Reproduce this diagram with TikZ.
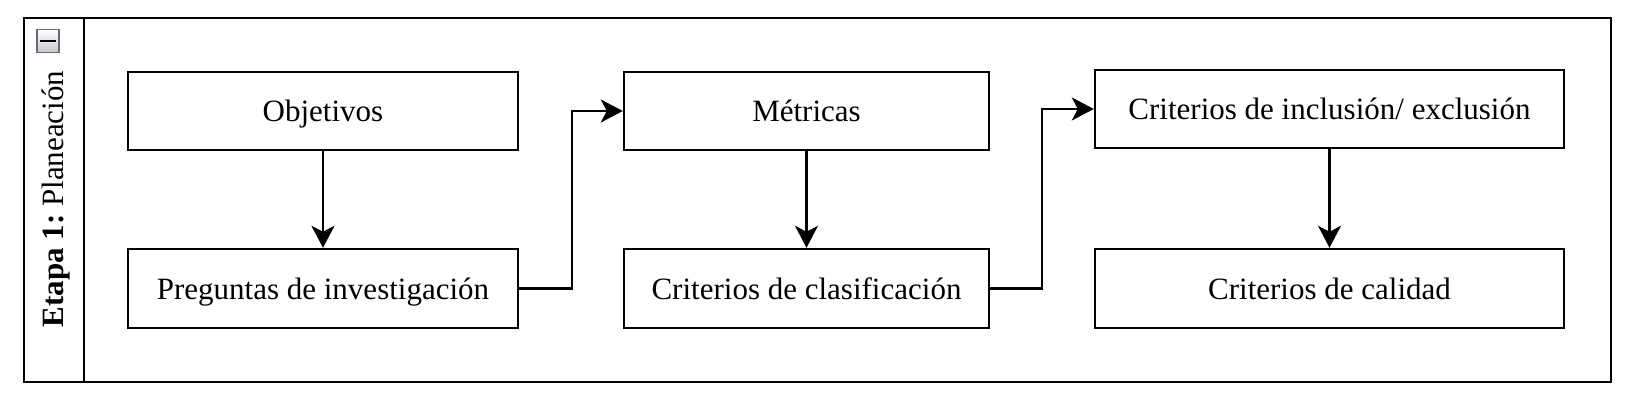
\documentclass[tikz,border=0pt]{standalone}
\usepackage{fontspec}
\setmainfont{Liberation Serif}
\usetikzlibrary{arrows.meta}
\begin{document}
\begin{tikzpicture}[x=0.5pt,y=-0.5pt,
  lw/.style={line width=1.2pt},
  txt/.style={font=\fontsize{15.5}{18}\selectfont, text height=10.8pt, text depth=0pt},
  stepbox/.style={draw, lw, rectangle, inner sep=0pt, align=center, txt},
  conn/.style={lw, -{Stealth[length=11pt,width=11.5pt,inset=3pt]}}]
\useasboundingbox (0,0) rectangle (1630,400);
% pool frame
\draw[lw] (24,18) rectangle (1611,382);
\draw[lw] (84,18) -- (84,382);
\node[rotate=90, inner sep=0pt, txt] (title) at (53,199)
  {\frenchspacing\textbf{Etapa 1:} Planeación};
% collapse icon
\node[draw=black!45!blue!20!gray, line width=0.8pt, top color=white, bottom color=black!22,
  minimum width=11pt, minimum height=11.5pt, inner sep=0pt] (icon) at (48,41) {};
\draw[line width=1.3pt] ([xshift=2pt]icon.west) -- ([xshift=-2pt]icon.east);
% boxes
\node[stepbox, minimum width=195pt, minimum height=39pt] (obj) at (323,111) {Objetivos};
\node[stepbox, minimum width=195pt, minimum height=39.5pt] (preg) at (323,288.5) {Preguntas de investigación};
\node[stepbox, minimum width=182.5pt, minimum height=39pt] (met) at (806.5,111) {Métricas};
\node[stepbox, minimum width=182.5pt, minimum height=39.5pt] (clas) at (806.5,288.5) {Criterios de clasificación};
\node[stepbox, minimum width=234.5pt, minimum height=39pt] (incl) at (1329.5,109) {Criterios de inclusión/ exclusión};
\node[stepbox, minimum width=234.5pt, minimum height=39.5pt] (cal) at (1329.5,288.5) {Criterios de calidad};
% bends
\coordinate (b1) at (572,200);
\coordinate (b2) at (1042,200);
% connectors
\draw[conn] (obj) -- (preg);
\draw[conn] (met) -- (clas);
\draw[conn] (incl) -- (cal);
\draw[conn] (preg.east) -- (preg.east -| b1) |- (met.west);
\draw[conn] (clas.east) -- (clas.east -| b2) |- (incl.west);
\end{tikzpicture}
\end{document}
